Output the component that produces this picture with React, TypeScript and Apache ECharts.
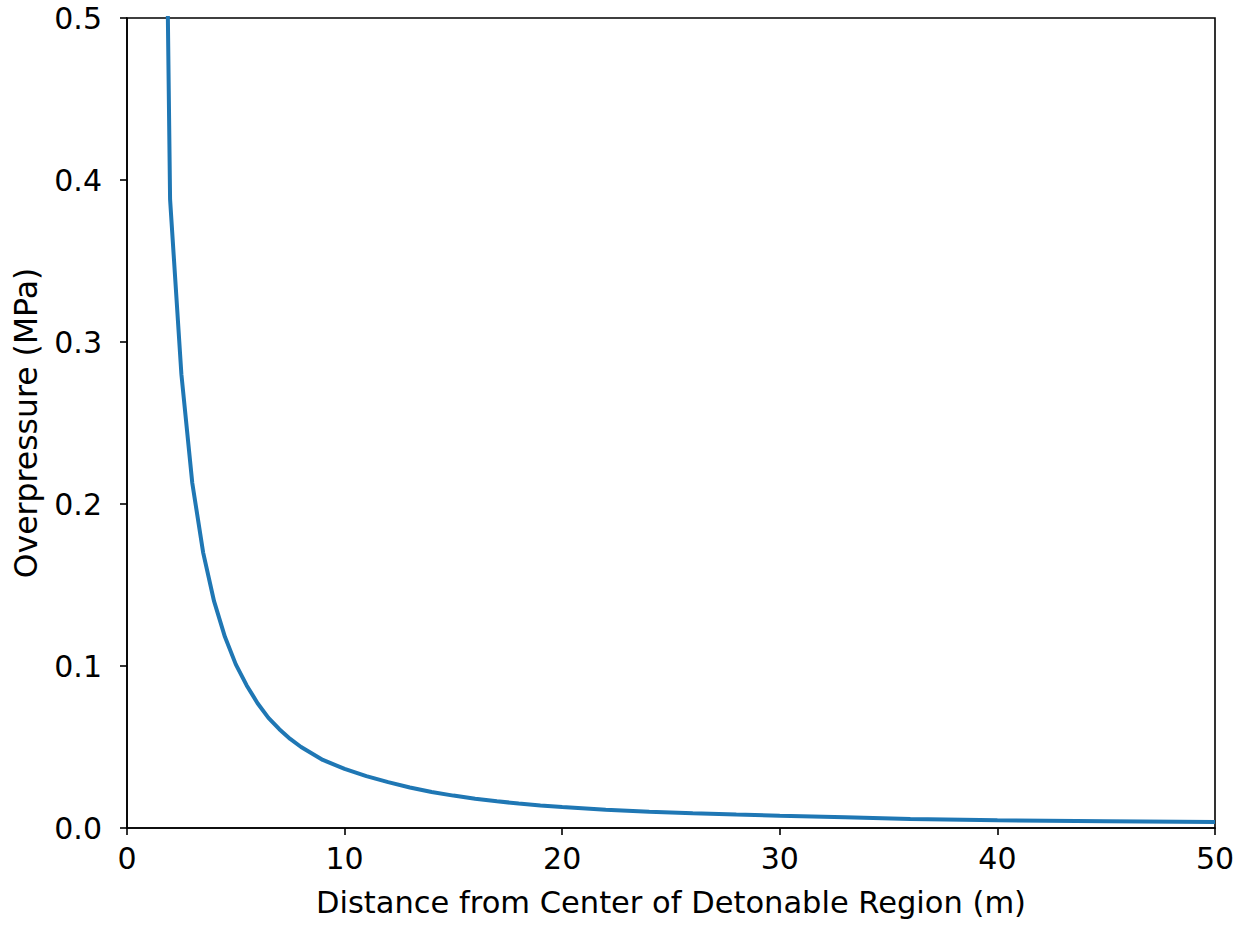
import React, { useEffect, useRef } from "react";
import * as echarts from "echarts";

const distances = [1.86, 1.98, 2.5, 3.0, 3.5, 4.0, 4.5, 5.0, 5.5, 6.0, 6.5, 7.0, 7.5, 8.0, 9.0, 10, 11, 12, 13, 14, 15, 16, 17, 18, 19, 20, 22, 24, 26, 28, 30, 33, 36, 40, 45, 50];
const overpressure = [0.52, 0.388, 0.28, 0.213, 0.17, 0.14, 0.118, 0.101, 0.088, 0.077, 0.068, 0.061, 0.055, 0.05, 0.042, 0.0365, 0.032, 0.0283, 0.025, 0.0222, 0.02, 0.0181, 0.0165, 0.0151, 0.0139, 0.0129, 0.0113, 0.0101, 0.0091, 0.0083, 0.0076, 0.0066, 0.0056, 0.0048, 0.0042, 0.0037];

const xTicks = [0, 10, 20, 30, 40, 50];
const yTicks = [0.0, 0.1, 0.2, 0.3, 0.4, 0.5];
const xTitle = "Distance from Center of Detonable Region (m)";
const yTitle = "Overpressure (MPa)";

export default function App() {
  const ref = useRef<HTMLDivElement>(null);
  useEffect(() => {
    document.body.style.margin = "0";
    const chart = echarts.init(ref.current!, null, { renderer: "svg" });
    const font = "DejaVu Sans";
    chart.setOption({
      animation: false,
      backgroundColor: "#ffffff",
      grid: { left: 127, right: 33, top: 18, bottom: 100, show: true, borderColor: "#000", borderWidth: 1.6, backgroundColor: "transparent" },
      xAxis: {
        type: "value", min: xTicks[0], max: xTicks[xTicks.length - 1], interval: xTicks[1] - xTicks[0],
        name: xTitle, nameLocation: "middle", nameGap: 59,
        nameTextStyle: { fontFamily: font, fontSize: 30.5, color: "#000" },
        axisLine: { show: true, lineStyle: { color: "#000", width: 1.6 } },
        axisTick: { show: true, inside: false, length: 7, lineStyle: { color: "#000", width: 1.6 } },
        axisLabel: { fontFamily: font, fontSize: 30, color: "#000", margin: 15 },
        splitLine: { show: false },
      },
      yAxis: {
        type: "value", min: yTicks[0], max: yTicks[yTicks.length - 1], interval: 0.1,
        name: yTitle, nameLocation: "middle", nameGap: 85,
        nameTextStyle: { fontFamily: font, fontSize: 31.5, color: "#000" },
        axisLine: { show: true, lineStyle: { color: "#000", width: 1.6 } },
        axisTick: { show: true, inside: false, length: 7, lineStyle: { color: "#000", width: 1.6 } },
        axisLabel: { fontFamily: font, fontSize: 30, color: "#000", margin: 25, formatter: (v: number) => v.toFixed(1) },
        splitLine: { show: false },
      },
      series: [{
        type: "line",
        data: distances.map((d, i) => [d, overpressure[i]]),
        showSymbol: false,
        smooth: false,
        clip: true,
        lineStyle: { color: "#1f77b4", width: 4 },
      }],
    });
    return () => chart.dispose();
  }, []);
  return <div ref={ref} style={{ position: "absolute", left: 0, top: 0, width: 1248, height: 928 }} />;
}
